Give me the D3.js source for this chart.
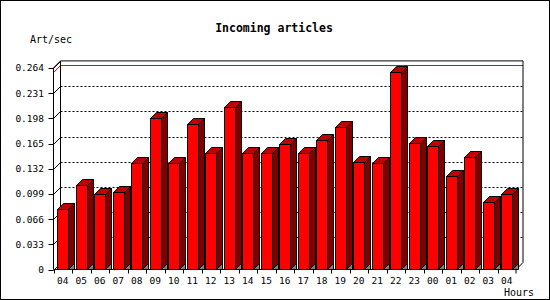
<!DOCTYPE html>
<html>
<head>
<meta charset="utf-8">
<script src="https://cdn.jsdelivr.net/npm/d3@7"></script>
<style>
  body { margin: 0; background: #fff; }
  text { font-family: "DejaVu Sans Mono", monospace; }
</style>
</head>
<body>
<div id="chart"></div>
<script>
var hours = ['04', '05', '06', '07', '08', '09', '10', '11', '12', '13', '14', '15', '16',
  '17', '18', '19', '20', '21', '22', '23', '00', '01', '02', '03', '04b'];
var hourLabels = ['04', '05', '06', '07', '08', '09', '10', '11', '12', '13', '14', '15', '16',
  '17', '18', '19', '20', '21', '22', '23', '00', '01', '02', '03', '04'];
var artPerSec = [0.079, 0.111, 0.099, 0.101, 0.140, 0.198, 0.139, 0.190, 0.153, 0.213, 0.152, 0.153, 0.165,
  0.153, 0.170, 0.186, 0.141, 0.140, 0.259, 0.166, 0.162, 0.123, 0.147, 0.089, 0.099];
var yTicks = [0, 0.033, 0.066, 0.099, 0.132, 0.165, 0.198, 0.231, 0.264];
var yTickLabels = ['0', '0.033', '0.066', '0.099', '0.132', '0.165', '0.198', '0.231', '0.264'];

var width = 550;
var height = 300;
var depth = 7;     // depth of the plot box
var barDepth = 6;  // depth of each bar
var x0 = 53.5, x1 = 516;
var y0 = 269.5, yTop = 67.9;

var svg = d3.select('#chart')
  .append('svg')
  .attr('width', width)
  .attr('height', height);

// Outer border
svg.append('rect')
  .attr('x', 0.5).attr('y', 0.5)
  .attr('width', width - 1).attr('height', height - 1)
  .attr('fill', '#fff').attr('stroke', '#000');

// Scales
const xScale = d3.scaleBand()
  .domain(hours)
  .range([x0, x1])
  .paddingInner(0);

const yScale = d3.scaleLinear()
  .domain([0, 0.264])
  .range([y0, yTop]);

// Back plane
svg.append('rect')
  .attr('x', x0 + depth)
  .attr('y', yTop - depth)
  .attr('width', x1 - x0)
  .attr('height', y0 - yTop)
  .attr('fill', '#fff')
  .attr('stroke', 'none');

// Gridlines on back plane
svg.selectAll('.grid')
  .data(yTicks.slice(1, -1))
  .enter()
  .append('line')
  .attr('x1', x0 + depth)
  .attr('x2', x1 + depth)
  .attr('y1', d => Math.round(yScale(d) - depth) + 0.5)
  .attr('y2', d => Math.round(yScale(d) - depth) + 0.5)
  .attr('stroke', '#000')
  .attr('stroke-dasharray', '2,2');

// Max line (red)
var maxVal = d3.max(artPerSec);
var yMax = Math.round(yScale(maxVal)) + 0.5;
svg.append('polyline')
  .attr('points', [[x0, yMax], [x0 + depth, yMax - depth], [x1 + depth, yMax - depth]].join(' '))
  .attr('fill', 'none')
  .attr('stroke', '#f00');

// Back frame
svg.append('polyline')
  .attr('points', [[x0, yTop], [x0 + depth, yTop - depth], [x1 + depth, yTop - depth],
    [x1 + depth, y0 - depth], [x1, y0]].join(' '))
  .attr('fill', 'none')
  .attr('stroke', '#000');
svg.append('line')
  .attr('x1', x0 + depth).attr('x2', x0 + depth)
  .attr('y1', yTop - depth).attr('y2', y0 - depth)
  .attr('stroke', '#000');

// Depth slashes at each y tick
svg.selectAll('.slash')
  .data(yTicks)
  .enter()
  .append('line')
  .attr('x1', x0)
  .attr('x2', x0 + depth)
  .attr('y1', d => Math.round(yScale(d)) + 0.5)
  .attr('y2', d => Math.round(yScale(d)) + 0.5 - depth)
  .attr('stroke', '#000');

// Bars
var barOffset = 3.5;
var barW = 11;
var bars = svg.selectAll('.bar')
  .data(artPerSec)
  .enter()
  .append('g');

bars.each(function (d, i) {
  var g = d3.select(this);
  var bx = Math.round(xScale(hours[i]) + barOffset) + 0.5;
  var bt = Math.round(yScale(d)) + 0.5;
  var by = y0;
  var dd = barDepth;
  // floor shadow
  g.append('polygon')
    .attr('points', [[bx + barW, by], [bx + barW + dd, by - dd], [bx + barW + dd, by]].join(' '))
    .attr('fill', '#808080')
    .attr('stroke', '#000');
  // side
  g.append('polygon')
    .attr('points', [[bx + barW, by], [bx + barW, bt], [bx + barW + dd, bt - dd], [bx + barW + dd, by - dd]].join(' '))
    .attr('fill', '#800000')
    .attr('stroke', '#000');
  // top
  g.append('polygon')
    .attr('points', [[bx, bt], [bx + dd, bt - dd], [bx + barW + dd, bt - dd], [bx + barW, bt]].join(' '))
    .attr('fill', '#c00000')
    .attr('stroke', '#000');
  // front
  g.append('rect')
    .attr('x', bx).attr('y', bt)
    .attr('width', barW).attr('height', by - bt)
    .attr('fill', '#f00')
    .attr('stroke', '#000');
});

// Front axes
svg.append('line')
  .attr('x1', x0).attr('x2', x0)
  .attr('y1', yTop).attr('y2', y0)
  .attr('stroke', '#000');
svg.append('line')
  .attr('x1', x0).attr('x2', x1)
  .attr('y1', y0).attr('y2', y0)
  .attr('stroke', '#000');

// Y ticks and labels
svg.selectAll('.ytick')
  .data(yTicks)
  .enter()
  .append('line')
  .attr('x1', x0 - 5).attr('x2', x0)
  .attr('y1', d => Math.round(yScale(d)) + 0.5)
  .attr('y2', d => Math.round(yScale(d)) + 0.5)
  .attr('stroke', '#000');

svg.selectAll('.ylabel')
  .data(yTicks)
  .enter()
  .append('text')
  .attr('x', 44)
  .attr('y', d => yScale(d) + 3.5)
  .attr('text-anchor', 'end')
  .attr('font-size', '9.5px')
  .text((d, i) => yTickLabels[i]);

// X ticks and labels
svg.selectAll('.xtick')
  .data(hours)
  .enter()
  .append('line')
  .attr('x1', d => Math.round(xScale(d)) + 0.5)
  .attr('x2', d => Math.round(xScale(d)) + 0.5)
  .attr('y1', y0).attr('y2', y0 + 4)
  .attr('stroke', '#000');
svg.append('line')
  .attr('x1', x1).attr('x2', x1)
  .attr('y1', y0).attr('y2', y0 + 4)
  .attr('stroke', '#000');

svg.selectAll('.xlabel')
  .data(hours)
  .enter()
  .append('text')
  .attr('x', d => xScale(d) + xScale.bandwidth() / 2)
  .attr('y', 284)
  .attr('text-anchor', 'middle')
  .attr('font-size', '9.5px')
  .text((d, i) => hourLabels[i]);

// Titles
svg.append('text')
  .attr('x', 274)
  .attr('y', 32)
  .attr('text-anchor', 'middle')
  .attr('font-size', '11.5px')
  .attr('font-weight', 'bold')
  .text('Incoming articles');

svg.append('text')
  .attr('x', 30)
  .attr('y', 43)
  .attr('font-size', '10px')
  .text('Art/sec');

svg.append('text')
  .attr('x', 534)
  .attr('y', 296)
  .attr('text-anchor', 'end')
  .attr('font-size', '10px')
  .text('Hours');
</script>
</body>
</html>
